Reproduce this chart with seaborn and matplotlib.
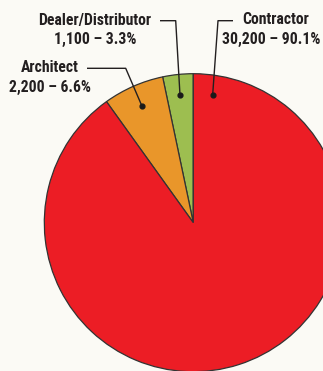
import matplotlib
matplotlib.use("Agg")
import matplotlib.pyplot as plt
import seaborn as sns
import numpy as np

categories = ["Dealer/Distributor", "Architect", "Contractor"]
counts = ["1,100", "2,200", "30,200"]
percents = [3.3, 6.6, 90.1]
colors = ["#9DBE50", "#E9962A", "#EC1D25"]

sns.set_theme(style="white")
plt.rcParams['font.family'] = ['Roboto Condensed', 'DejaVu Sans']

W, H = 323, 371
fig = plt.figure(figsize=(W / 100, H / 100), dpi=100)
fig.patch.set_facecolor("#FBFAF5")
ax = fig.add_axes([0, 0, 1, 1])
ax.set_facecolor("#FBFAF5")

cx, cy, R = 193.3, H - 222.7, 149
wedges, _ = ax.pie(percents, colors=colors, startangle=90, counterclock=True,
                   center=(cx, cy), radius=R,
                   wedgeprops=dict(edgecolor="#333333", linewidth=0.9))
ax.set_xlim(0, W)
ax.set_ylim(0, H)
ax.set_aspect('equal')
ax.axis('off')

# label layout (pixels from top-left): text center x (line 1, line 2), first-line y, elbow line
layout = {
    "Dealer/Distributor": dict(tx=(95, 95), ty=20, line=[(160, 20.7), (175.7, 20.7)], ang=None, r=0.865),
    "Architect": dict(tx=(50, 50), ty=68, line=[(87, 68.3), (125.7, 68.3)], ang=None, r=0.857),
    "Contractor": dict(tx=(276, 271.5), ty=20, line=[(233, 20.7), (218, 20.7)], ang=-8.6, r=0.87),
}
ink = "#231F20"
for w, cat, cnt, pct in zip(wedges, categories, counts, percents):
    L = layout[cat]
    if L["ang"] is None:
        a = np.deg2rad((w.theta1 + w.theta2) / 2)
    else:
        a = np.deg2rad(w.theta2 + L["ang"])
    dx = cx + L["r"] * R * np.cos(a)
    dy = cy + L["r"] * R * np.sin(a)
    xs = [p[0] for p in L["line"]] + [dx]
    ys = [H - p[1] for p in L["line"]] + [dy]
    ax.plot(xs, ys, color=ink, lw=1.0, solid_capstyle='butt')
    ax.scatter([dx], [dy], s=12, color="#1a1a1a", zorder=5)
    ax.text(L["tx"][0], H - L["ty"], cat, ha="center", va="center",
            fontsize=11.3, fontweight="bold", color=ink)
    ax.text(L["tx"][1], H - L["ty"] - 19.5, f"{cnt} – {pct}%", ha="center", va="center",
            fontsize=11.3, fontweight="bold", color=ink)

fig.savefig("out.png", dpi=100, facecolor=fig.get_facecolor())
